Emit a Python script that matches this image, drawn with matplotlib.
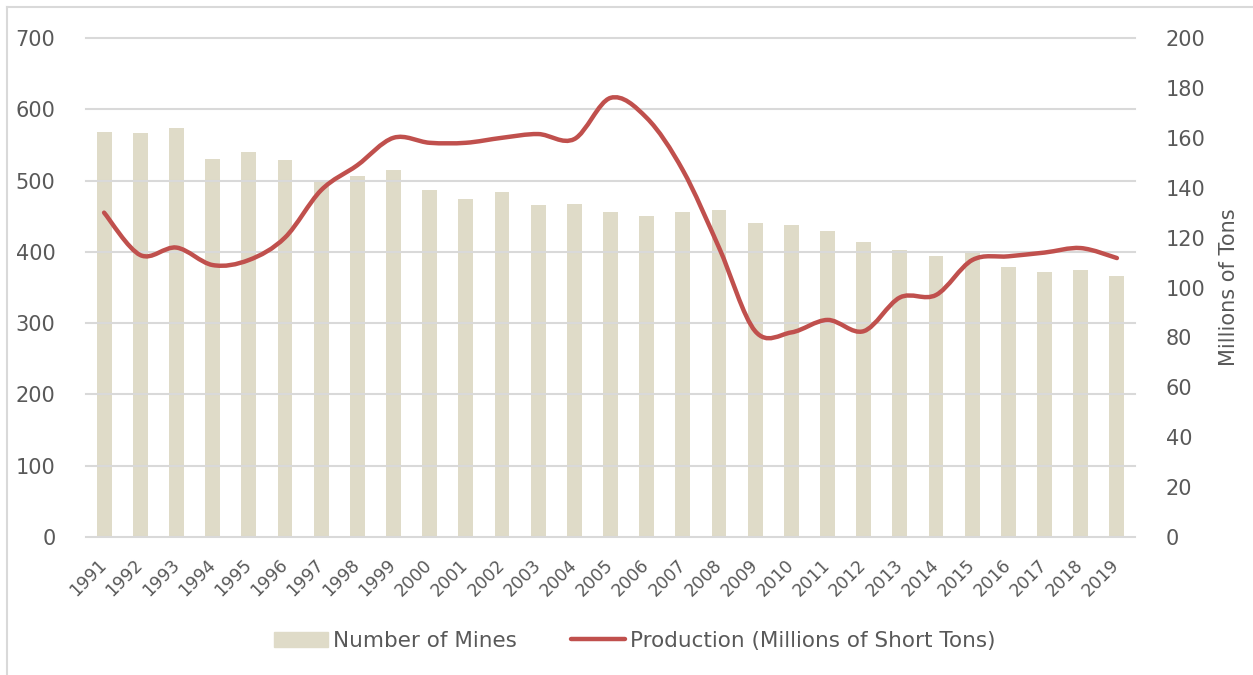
import matplotlib.pyplot as plt
from matplotlib.path import Path
from matplotlib.patches import PathPatch, Patch
from matplotlib.lines import Line2D
import numpy as np

plt.rc('font', family='DejaVu Sans')

years = list(range(1991, 2020))
mines = [568, 567, 574, 530, 540, 529, 501, 506, 515, 487, 474, 484, 466, 467,
         456, 450, 456, 459, 440, 438, 429, 414, 402, 394, 399, 379, 372, 375, 366]
production = [130, 113, 116, 109, 111, 120, 139, 149, 160, 158, 158, 160, 161.5, 159.5,
              176, 168, 147, 116, 82.5, 82, 87, 82.5, 96, 97, 111, 112.5, 114, 115.8, 111.8]

txt = '#595959'
grid_c = '#d9d9d9'
bar_c = '#dfdbc8'
line_c = '#c0504d'

fig = plt.figure(figsize=(12.53, 6.75), dpi=100)
ax = fig.add_axes([86/1253, 1-537/675, (1135-86)/1253, (537-38)/675])
ax2 = ax.twinx()

x = np.arange(len(years))
ax.bar(x, mines, width=0.41, color=bar_c, zorder=1)
ax.set_ylim(0, 700)
ax.set_yticks(range(0, 701, 100))
ax.set_xlim(-0.5, len(years) - 0.5)
ax.set_xticks(x)
ax.set_xticklabels([str(y) for y in years], rotation=45, ha='right', va='center',
                   rotation_mode='anchor', fontsize=12.5, color=txt)
ax.tick_params(axis='x', length=0, pad=18)
ax.tick_params(axis='y', length=0, pad=22, labelsize=15, labelcolor=txt)
for v in range(100, 701, 100):
    ax.axhline(v, color=grid_c, lw=1.5, zorder=2, clip_on=False)
for s in ['top', 'right', 'left']:
    ax.spines[s].set_visible(False)
    ax2.spines[s].set_visible(False)
ax.spines['bottom'].set_color(grid_c)
ax.spines['bottom'].set_linewidth(1.5)
ax2.spines['bottom'].set_visible(False)

# smoothed line (excel style bezier through the points)
pts = np.column_stack([x, production]).astype(float)
verts = [pts[0]]
codes = [Path.MOVETO]
n = len(pts)
for i in range(n - 1):
    p0 = pts[i - 1] if i > 0 else pts[i]
    p1 = pts[i]
    p2 = pts[i + 1]
    p3 = pts[i + 2] if i + 2 < n else pts[i + 1]
    c1 = p1 + (p2 - p0) / 6.0
    c2 = p2 - (p3 - p1) / 6.0
    verts += [c1, c2, p2]
    codes += [Path.CURVE4] * 3
ax2.add_patch(PathPatch(Path(verts, codes), fill=False, edgecolor=line_c, lw=3.2,
                        capstyle='round', zorder=3))
ax2.set_ylim(0, 200)
ax2.set_yticks(range(0, 201, 20))
ax2.tick_params(axis='y', length=0, pad=22, labelsize=15, labelcolor=txt)
ax2.set_ylabel('Millions of Tons', fontsize=15, color=txt, labelpad=10)

handles = [Patch(color=bar_c), Line2D([], [], color=line_c, lw=3.2, solid_capstyle='round')]
fig.legend(handles, ['Number of Mines', 'Production (Millions of Short Tons)'],
           loc='center', bbox_to_anchor=(635/1253, 1-641/675), ncol=2, frameon=False,
           fontsize=15.5, labelcolor=txt, handlelength=2.5, handletextpad=0.25,
           columnspacing=2.5)

# outer chart border
fig.add_artist(Line2D([7/1253, 7/1253], [0, 1-7/675], color=grid_c, lw=1.5))
fig.add_artist(Line2D([7/1253, 1], [1-7/675, 1-7/675], color=grid_c, lw=1.5))

fig.savefig('out.png', dpi=100)
